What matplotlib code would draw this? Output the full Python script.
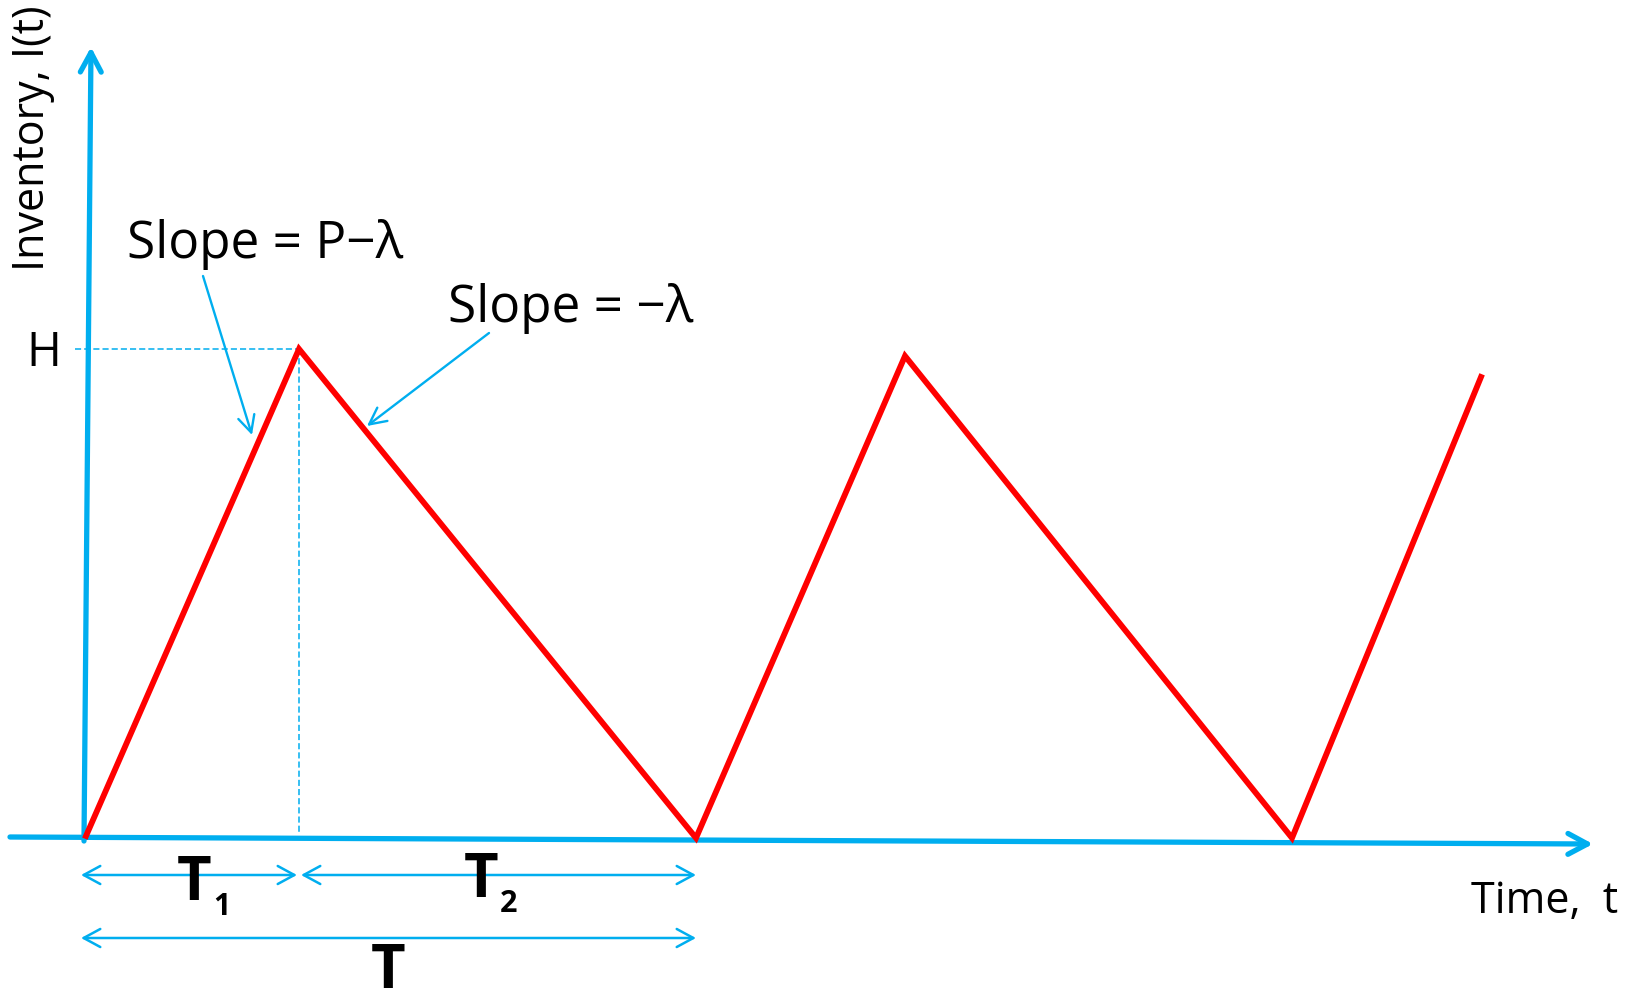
import matplotlib
matplotlib.use("Agg")
import matplotlib.pyplot as plt

# inventory cycle (time, inventory level), in pixel-like units from the origin
t_pts = [2, 215, 612, 821, 1208, 1397]
inv_pts = [2, 489, 0, 482, 0, 461]

blue = '#00AEEF'
red = '#FF0000'
fam = ['Open Sans', 'DejaVu Sans']

fig = plt.figure(figsize=(16.33, 9.96), dpi=100)
ax = fig.add_axes([0, 0, 1, 1])
ax.set_xlim(-84, 1633 - 84)
ax.set_ylim(838 - 996, 838)
ax.axis('off')


def arrow(p0, p1, style, lw, ls='-'):
    ax.annotate('', xy=p1, xytext=p0,
                arrowprops=dict(arrowstyle=style, color=blue, lw=lw, ls=ls,
                                shrinkA=0, shrinkB=0, mutation_scale=1))


# axes with arrow heads
arrow((0, -3), (7, 791), '->,head_length=14,head_width=7.5', 3.8)
arrow((-74, 1), (1509, -6), '->,head_length=14,head_width=7.5', 3.8)

# red saw-tooth
ax.plot(t_pts, inv_pts, color=red, lw=4.2, solid_joinstyle='miter', zorder=5)

# H guides
ax.plot([-9, t_pts[1]], [inv_pts[1], inv_pts[1]], color=blue, lw=1.1, ls=(0, (4, 2)))
ax.plot([t_pts[1], t_pts[1]], [inv_pts[1], 5], color=blue, lw=1.1, ls=(0, (4, 2)))

# slope annotations
arrow((119, 562), (168, 403), '->,head_length=12,head_width=6', 1.7)
arrow((405, 505), (283, 412), '->,head_length=12,head_width=6', 1.7)
ax.text(43, 580, 'Slope = P\u2212\u03bb', fontsize=37, family=fam, ha='left', va='baseline')
ax.text(364, 516, 'Slope = \u2212\u03bb', fontsize=37, family=fam, ha='left', va='baseline')

# period arrows
arrow((t_pts[0] - 5, -37), (t_pts[1] - 2, -37), '<->,head_length=12,head_width=6.5', 1.8)
arrow((t_pts[1] + 2, -37), (t_pts[2], -37), '<->,head_length=12,head_width=6.5', 1.8)
arrow((t_pts[0] - 5, -100), (t_pts[2], -100), '<->,head_length=12,head_width=6.5', 1.8)

ax.text(110, -62, 'T', fontsize=43, family=fam, weight='bold', ha='center', va='baseline')
ax.text(138, -77, '1', fontsize=22, family=fam, weight='bold', ha='center', va='baseline')
ax.text(397, -59, 'T', fontsize=43, family=fam, weight='bold', ha='center', va='baseline')
ax.text(425, -74, '2', fontsize=22, family=fam, weight='bold', ha='center', va='baseline')
ax.text(304, -150, 'T', fontsize=43, family=fam, weight='bold', ha='center', va='baseline')

# labels
ax.text(-40, 472, 'H', fontsize=34, family=fam, ha='center', va='baseline')
ax.text(-51, 700, 'Inventory, I(t)', fontsize=31, family=fam, rotation=90,
        ha='center', va='center')
ax.text(1534, -75, 'Time,  t', fontsize=31, family=fam, ha='right', va='baseline')

fig.savefig('out.png', dpi=100, facecolor='white')
